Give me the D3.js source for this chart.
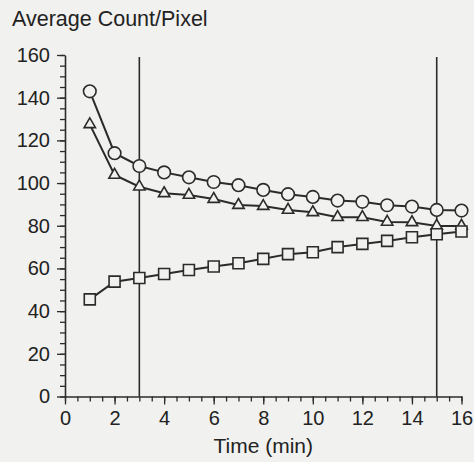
<!DOCTYPE html>
<html>
<head>
<meta charset="utf-8">
<script src="https://cdn.jsdelivr.net/npm/d3@7"></script>
<style>
  body { margin: 0; background: #f1f1ef; }
  svg { display: block; }
  text { font-family: "Liberation Sans", Arial, sans-serif; fill: #222; }
</style>
</head>
<body>
<div id="chart"></div>
<script>
// time points (min)
let times = [1, 2, 3, 4, 5, 6, 7, 8, 9, 10, 11, 12, 13, 14, 15, 16];
let circleVals = [143, 114, 108, 105, 102.7, 100.5, 99, 96.8, 94.8, 93.5, 91.8, 91.2, 89.6, 89, 87.4, 87.1];
let triangleVals = [127.5, 103.8, 98.3, 95.2, 94.4, 92.5, 89.7, 89.2, 87.4, 86.3, 84, 84, 81.8, 81.6, 79.9, 79.9];
let squareVals = [45.5, 53.8, 55.5, 57.4, 59.3, 60.9, 62.4, 64.5, 66.7, 67.6, 70, 71.5, 72.9, 74.6, 76, 77.3];
let markerLines = [3, 15];

let xTicks = [0, 2, 4, 6, 8, 10, 12, 14, 16];
let yTicks = [0, 20, 40, 60, 80, 100, 120, 140, 160];

let width = 474,
    height = 462;
let ink = "#2b2b2b";
let bg = "#f1f1ef";

let svg = d3.select("#chart").append("svg")
    .attr("width", width)
    .attr("height", height);

svg.append("rect").attr("width", width).attr("height", height).attr("fill", bg);

let x = d3.scaleLinear().domain([0, 16]).range([65, 461.5]);
let y = d3.scaleLinear().domain([0, 160]).range([396.5, 55]);

// minor ticks
svg.append("g")
    .attr("transform", `translate(0,${y(0)})`)
    .call(d3.axisBottom(x).tickValues(d3.range(0, 16.01, 0.5)).tickSize(5).tickFormat(""))
    .call(g => g.select(".domain").remove());
svg.append("g")
    .attr("transform", `translate(${x(0)},0)`)
    .call(d3.axisLeft(y).tickValues(d3.range(0, 160.01, 5)).tickSize(5).tickFormat(""))
    .call(g => g.select(".domain").remove());

// major ticks + labels
let xAxis = svg.append("g")
    .attr("transform", `translate(0,${y(0)})`)
    .call(d3.axisBottom(x).tickValues(xTicks).tickSize(8).tickSizeOuter(0).tickPadding(4));
let yAxis = svg.append("g")
    .attr("transform", `translate(${x(0)},0)`)
    .call(d3.axisLeft(y).tickValues(yTicks).tickSize(8).tickSizeOuter(0).tickPadding(7));

svg.selectAll(".tick line").attr("stroke", ink).attr("stroke-width", 1.3);
svg.selectAll(".domain").attr("stroke", ink).attr("stroke-width", 1.6);
svg.selectAll(".tick text")
    .attr("fill", "#222")
    .style("font-family", "'Liberation Sans', Arial, sans-serif")
    .style("font-size", "20px");
xAxis.selectAll(".tick text").attr("dy", "0.8em");

// vertical reference lines
svg.append("g")
    .selectAll("line")
    .data(markerLines)
    .enter().append("line")
    .attr("x1", d => x(d)).attr("x2", d => x(d))
    .attr("y1", y(160) + 2).attr("y2", y(0))
    .attr("stroke", ink)
    .attr("stroke-width", 1.6);

let series = [
    {vals: circleVals, shape: "circle"},
    {vals: triangleVals, shape: "triangle"},
    {vals: squareVals, shape: "square"}
];

let line = d3.line()
    .x((d) => x(d[0]))
    .y((d) => y(d[1]));

series.forEach(s => {
    let pts = times.map((t, i) => [t, s.vals[i]]);
    svg.append("path")
        .datum(pts)
        .attr("d", line)
        .attr("fill", "none")
        .attr("stroke", ink)
        .attr("stroke-width", 2);

    let g = svg.append("g");
    let sel = g.selectAll("path")
        .data(pts)
        .enter().append("path")
        .attr("transform", (d) => `translate(${x(d[0])},${y(d[1])})`)
        .attr("fill", bg)
        .attr("stroke", ink)
        .attr("stroke-width", 1.6);
    if (s.shape === "circle") {
        sel.attr("d", d3.symbol().type(d3.symbolCircle).size(Math.PI * 6.3 * 6.3));
    } else if (s.shape === "triangle") {
        sel.attr("d", d3.symbol().type(d3.symbolTriangle).size(56));
    } else {
        sel.attr("d", d3.symbol().type(d3.symbolSquare).size(11 * 11));
    }
});

// labels
svg.append("text")
    .attr("x", 12)
    .attr("y", 26)
    .style("font-size", "21.5px")
    .text("Average Count/Pixel");

svg.append("text")
    .attr("x", x(8))
    .attr("y", 453)
    .attr("text-anchor", "middle")
    .style("font-size", "21px")
    .text("Time (min)");
</script>
</body>
</html>
